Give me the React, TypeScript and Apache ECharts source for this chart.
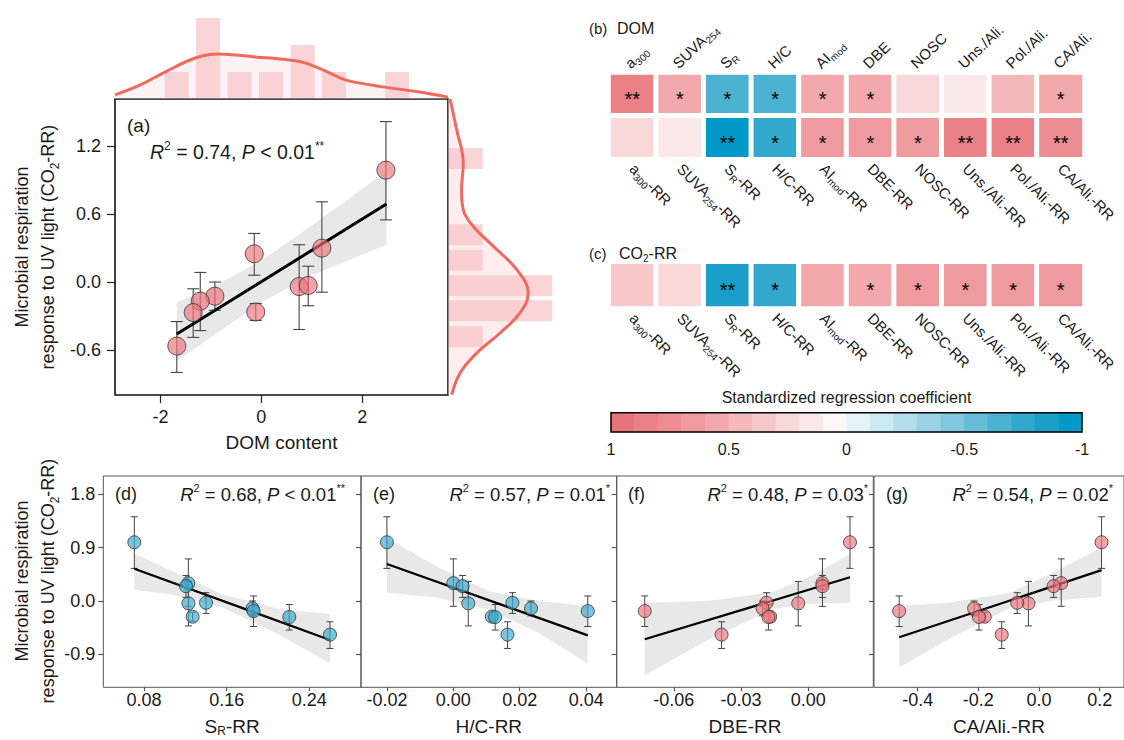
import React, { useEffect, useRef } from "react";
import * as echarts from "echarts";

const FONT = '"Liberation Sans", Arial, Helvetica, sans-serif';
const INK = "#1a1a1a";
const PINK = "rgba(238,120,125,0.85)";
const BLUE = "rgba(59,169,203,0.85)";
const EDGE = "#333333";
const BAND = "rgba(200,200,200,0.42)";
const HIST = "rgba(248,196,200,0.72)";
const FILL = "rgba(250,214,217,0.45)";
const CURVE = "#ef6a5c";

// ---------- CO2-RR of the ten samples (shared by panels a, d–g) ----------
const respY = [0.99, 0.3, 0.25, -0.04, -0.03, -0.125, -0.17, -0.265, -0.27, -0.567];
const respLo = [0.55, -0.09, 0.06, -0.42, -0.21, -0.25, -0.43, -0.34, -0.49, -0.8];
const respHi = [1.42, 0.71, 0.43, 0.33, 0.14, 0.0, 0.085, -0.19, -0.06, -0.35];

// ---------- predictors ----------
const domX = [2.47, 1.2, -0.14, 0.75, 0.93, -0.92, -1.21, -0.11, -1.35, -1.675];
const srX = [0.0706, 0.1229, 0.1206, 0.123, 0.14, 0.185, 0.186, 0.127, 0.2206, 0.26];
const hcX = [-0.02, 0.0, 0.0028, 0.0045, 0.0178, 0.0234, 0.0405, 0.0116, 0.0126, 0.0163];
const dbeX = [0.0186, 0.0063, 0.0063, -0.0045, -0.0186, -0.0204, -0.073, -0.017, -0.0178, -0.0387];
const caX = [0.206, 0.073, 0.048, -0.035, -0.072, -0.214, -0.461, -0.179, -0.198, -0.123];

// ---------- fitted lines and confidence bands ----------
const fitAX = [-1.675, 2.48];
const fitAY = [-0.46, 0.69];
const bandAX = [-1.675, -1, 0, 1, 2.48];
const bandALo = [-0.7, -0.49, -0.18, 0.06, 0.33];
const bandAHi = [-0.18, -0.05, 0.19, 0.5, 0.98];

const fitDX = [0.0706, 0.26];
const fitDY = [0.545, -0.657];
const bandDX = [0.0706, 0.11, 0.156, 0.21, 0.26];
const bandDLo = [0.19, 0.1, -0.11, -0.56, -1.05];
const bandDHi = [0.8, 0.48, 0.11, -0.13, -0.22];

const fitEX = [-0.02, 0.0405];
const fitEY = [0.624, -0.58];
const bandEX = [-0.02, -0.005, 0.011, 0.026, 0.0405];
const bandELo = [0.14, 0.06, -0.15, -0.55, -1.06];
const bandEHi = [1.06, 0.58, 0.16, 0.0, -0.085];

const fitFX = [-0.073, 0.0186];
const fitFY = [-0.646, 0.4];
const bandFX = [-0.073, -0.045, -0.016, 0.0, 0.0186];
const bandFLo = [-1.25, -0.66, -0.14, -0.05, -0.03];
const bandFHi = [-0.03, 0.0, 0.15, 0.4, 0.79];

const fitGX = [-0.461, 0.206];
const fitGY = [-0.61, 0.52];
const bandGX = [-0.461, -0.3, -0.0955, 0.05, 0.206];
const bandGLo = [-1.12, -0.65, -0.12, 0.01, 0.07];
const bandGHi = [-0.085, -0.03, 0.14, 0.49, 0.9];

// ---------- marginal distributions of panel (a) ----------
const histXCenters = [-1.675, -1.055, -0.43, 0.19, 0.82, 1.44, 2.69];
const histXCounts = [1, 3, 1, 1, 2, 1, 1];
const densXPos = [-2.9, -2.4, -1.91, -1.31, -0.86, -0.12, 0.59, 0.885, 1.36, 1.68, 2.45, 3.14, 3.7];
const densXVal = [0.15, 0.52, 1.0, 1.52, 1.67, 1.56, 1.44, 1.33, 0.96, 0.7, 0.44, 0.26, 0.07];
const histYCenters = [1.094, 0.419, 0.193, -0.033, -0.254, -0.484];
const histYCounts = [1, 1, 1, 3, 3, 1];
const densYPos = [1.62, 1.348, 1.053, 0.817, 0.64, 0.492, 0.315, 0.109, -0.097, -0.274, -0.451, -0.628, -0.805, -0.997];
const densYVal = [0.06, 0.25, 0.44, 0.39, 0.44, 0.73, 1.31, 1.98, 2.31, 2.07, 1.5, 0.83, 0.35, 0.11];

// ---------- heatmaps ----------
const varLabels = ["a{s|300}", "SUVA{s|254}", "S{s|R}", "H/C", "AI{s|mod}", "DBE", "NOSC", "Uns./Ali.", "Pol./Ali.", "CA/Ali."];
const rrLabels = varLabels.map((l) => l + "-RR");
const coefDom = [0.85, 0.58, -0.65, -0.65, 0.58, 0.58, 0.25, 0.15, 0.45, 0.58];
const coefDomRR = [0.25, 0.15, -0.95, -0.75, 0.68, 0.68, 0.68, 0.85, 0.85, 0.75];
const coefCO2 = [0.35, 0.25, -0.85, -0.75, 0.58, 0.58, 0.68, 0.68, 0.68, 0.68];
const sigDom = ["**", "*", "*", "*", "*", "*", "", "", "", "*"];
const sigDomRR = ["", "", "**", "*", "*", "*", "*", "**", "**", "**"];
const sigCO2 = ["", "", "**", "*", "", "*", "*", "*", "*", "*"];

// colour scale: 20 steps from 1 (left) to -1 (right)
const segColors = [
  "#e8747b", "#ea8187", "#ec8d92", "#ee9a9e", "#f1a9ac", "#f3b8ba", "#f6c8ca", "#f9d8d9", "#fbe8e8", "#fdf7f7",
  "#e6f4f9", "#cde9f2", "#b4deec", "#9ad3e5", "#80c8df", "#66bdd8", "#4db2d2", "#33a8cd", "#1a9fca", "#0099c8",
];
const scaleSteps = [0.95, 0.85, 0.75, 0.65, 0.55, 0.45, 0.35, 0.25, 0.15, 0.05, -0.05, -0.15, -0.25, -0.35, -0.45, -0.55, -0.65, -0.75, -0.85, -0.95];

// ---------- ticks ----------
const domTicks = [-2, 0, 2];
const respTicksA = [-0.6, 0, 0.6, 1.2];
const respTicksB = [-0.9, 0, 0.9, 1.8];
const srTicks = [0.08, 0.16, 0.24];
const hcTicks = [-0.02, 0, 0.02, 0.04];
const dbeTicks = [-0.06, -0.03, 0];
const caTicks = [-0.4, -0.2, 0, 0.2];
const scaleTicks = [1, 0.5, 0, -0.5, -1];

const statA = "{i|R}{p|2} = 0.74, {i|P} < 0.01{p|**}";
const statD = "{i|R}{p|2} = 0.68, {i|P} < 0.01{p|**}";
const statE = "{i|R}{p|2} = 0.57, {i|P} = 0.01{p|*}";
const statF = "{i|R}{p|2} = 0.48, {i|P} = 0.03{p|*}";
const statG = "{i|R}{p|2} = 0.54, {i|P} = 0.02{p|*}";

const empty = () => ({ type: "group", children: [] });

function valAxis(gridIndex: number, min: number, max: number, ticks: number[], dec: number, o: any = {}) {
  return {
    type: "value",
    gridIndex,
    min,
    max,
    axisLine: { show: false, onZero: false },
    splitLine: { show: false },
    axisTick: { show: true, length: o.tickLen ?? 6, customValues: ticks, lineStyle: { color: o.tickColor ?? "#222", width: 1.2 } },
    axisLabel: {
      show: o.showLabel ?? true,
      customValues: ticks,
      formatter: (v: number) => Number(v).toFixed(dec),
      fontSize: 18,
      color: INK,
      fontFamily: FONT,
      margin: o.margin ?? 8,
    },
    ...(o.extra || {}),
  };
}

function bandSeries(xi: number, yi: number, bx: number[], lo: number[], hi: number[]) {
  return {
    type: "custom",
    xAxisIndex: xi,
    yAxisIndex: yi,
    silent: true,
    z: 1,
    data: bx.map((x, i) => [x, lo[i], hi[i]]),
    encode: { x: 0, y: [1, 2] },
    renderItem: (p: any, api: any) => {
      if (p.dataIndex !== 0) return empty();
      const up = bx.map((x, i) => api.coord([x, hi[i]]));
      const dn = bx.map((x, i) => api.coord([x, lo[i]])).reverse();
      return { type: "polygon", shape: { points: up.concat(dn) }, style: { fill: BAND } };
    },
  };
}

function errSeries(xi: number, yi: number, xs: number[], cap: number, lw: number) {
  return {
    type: "custom",
    xAxisIndex: xi,
    yAxisIndex: yi,
    silent: true,
    z: 2,
    data: xs.map((x, i) => [x, respLo[i], respHi[i]]),
    encode: { x: 0, y: [1, 2] },
    renderItem: (p: any, api: any) => {
      const x = api.value(0);
      const a = api.coord([x, api.value(1)]);
      const b = api.coord([x, api.value(2)]);
      const st = { stroke: "#444", lineWidth: lw };
      return {
        type: "group",
        children: [
          { type: "line", shape: { x1: a[0], y1: a[1], x2: b[0], y2: b[1] }, style: st },
          { type: "line", shape: { x1: a[0] - cap / 2, y1: a[1], x2: a[0] + cap / 2, y2: a[1] }, style: st },
          { type: "line", shape: { x1: b[0] - cap / 2, y1: b[1], x2: b[0] + cap / 2, y2: b[1] }, style: st },
        ],
      };
    },
  };
}

function fitSeries(xi: number, yi: number, fx: number[], fy: number[], lw: number) {
  return {
    type: "line",
    xAxisIndex: xi,
    yAxisIndex: yi,
    silent: true,
    z: 3,
    showSymbol: false,
    data: fx.map((x, i) => [x, fy[i]]),
    lineStyle: { color: "#000", width: lw },
  };
}

function dotSeries(xi: number, yi: number, xs: number[], color: string, size: number) {
  return {
    type: "scatter",
    xAxisIndex: xi,
    yAxisIndex: yi,
    silent: true,
    z: 4,
    symbolSize: size,
    data: xs.map((x, i) => [x, respY[i]]),
    itemStyle: { color, borderColor: EDGE, borderWidth: 1 },
  };
}

const heatRich = { s: { fontSize: 10, lineHeight: 10, fontFamily: FONT, color: INK, verticalAlign: "bottom" } };
function heatLabel(labels: string[], rotate: number, margin: number) {
  return {
    show: true,
    interval: 0,
    rotate,
    align: "left",
    verticalAlign: "middle",
    margin,
    fontSize: 15,
    lineHeight: 20,
    fontFamily: FONT,
    color: INK,
    formatter: (_v: any, i: number) => labels[i],
    rich: heatRich,
  };
}
const catAxisBase = { type: "category", axisLine: { show: false }, axisTick: { show: false }, splitLine: { show: false } };

const textRich = (fs: number) => ({
  i: { fontSize: fs, fontStyle: "italic", fontFamily: FONT, fill: INK, lineHeight: fs + 4 },
  p: { fontSize: Math.round(fs * 0.6), fontFamily: FONT, fill: INK, verticalAlign: "top", lineHeight: Math.round(fs * 0.6) },
  b: { fontSize: Math.round(fs * 0.65), fontFamily: FONT, fill: INK, verticalAlign: "bottom", lineHeight: fs },
  m: { fontSize: fs, fontFamily: FONT, fill: INK, lineHeight: 26 },
  s: { fontSize: 10, lineHeight: 10, fontFamily: FONT, fill: INK, verticalAlign: "bottom" },
});

function textEl(x: number, y: number, text: string, fs: number, align = "left", extra: any = {}) {
  return {
    type: "text",
    x,
    y,
    silent: true,
    z: 100,
    ...extra,
    style: {
      text,
      fontSize: fs,
      fontFamily: FONT,
      fill: INK,
      align,
      verticalAlign: "middle",
      lineHeight: fs + 4,
      rich: textRich(fs),
    },
  };
}

function buildOption() {
  const grid: any[] = [];
  const xAxis: any[] = [];
  const yAxis: any[] = [];
  const series: any[] = [];
  const heatIdx: number[] = [];

  // ---- grid 0 : panel (a)
  grid.push({ left: 115, top: 99, width: 333, height: 296, show: true, borderColor: "#111", borderWidth: 1.6, backgroundColor: "transparent" });
  xAxis.push(
    valAxis(0, -2.9, 3.7, domTicks, 0, {
      tickLen: 8,
      margin: 13,
      extra: { position: "bottom", name: "DOM content", nameLocation: "middle", nameGap: 38, nameTextStyle: { fontSize: 19, color: INK, fontFamily: FONT } },
    })
  );
  yAxis.push(valAxis(0, -1.0, 1.62, respTicksA, 1, { tickLen: 8, margin: 14, extra: { position: "left" } }));

  // ---- grid 1 : top marginal
  grid.push({ left: 115, top: 10, width: 333, height: 89 });
  xAxis.push({ type: "value", gridIndex: 1, min: -2.9, max: 3.7, show: false });
  yAxis.push({ type: "value", gridIndex: 1, min: 0, max: 3.3, show: false });

  // ---- grid 2 : right marginal
  grid.push({ left: 448, top: 99, width: 140, height: 296 });
  xAxis.push({ type: "value", gridIndex: 2, min: 0, max: 4.03, show: false });
  yAxis.push({ type: "value", gridIndex: 2, min: -1.0, max: 1.62, show: false });

  // ---- grid 3 : heatmap (b)
  grid.push({ left: 608.5, top: 72.5, width: 476, height: 86.7 });
  xAxis.push({ ...catAxisBase, gridIndex: 3, position: "bottom", data: rrLabels.map((_, i) => "r" + i), axisLabel: heatLabel(rrLabels, -45, 7) });
  yAxis.push({ ...catAxisBase, gridIndex: 3, data: ["DOM", "RR"], inverse: true, show: false });

  // ---- grid 4 : heatmap (c)
  grid.push({ left: 608.5, top: 261.8, width: 476, height: 46.7 });
  xAxis.push({ ...catAxisBase, gridIndex: 4, position: "bottom", data: rrLabels.map((_, i) => "c" + i), axisLabel: heatLabel(rrLabels, -45, 7) });
  yAxis.push({ ...catAxisBase, gridIndex: 4, data: ["CO2"], show: false });

  // ---- grid 5 : colour bar
  grid.push({ left: 611, top: 412.7, width: 471, height: 19.3, show: true, borderColor: "#000", borderWidth: 1.5, backgroundColor: "transparent", z: 10 });
  xAxis.push({ ...catAxisBase, gridIndex: 5, position: "top", data: scaleSteps.map((_, i) => "s" + i), show: false });
  xAxis.push({
    type: "value",
    gridIndex: 5,
    position: "bottom",
    min: -1,
    max: 1,
    inverse: true,
    axisLine: { show: false, onZero: false },
    axisTick: { show: false },
    splitLine: { show: false },
    axisLabel: { customValues: scaleTicks, fontSize: 16, color: INK, fontFamily: FONT, margin: 9 },
  });
  yAxis.push({ ...catAxisBase, gridIndex: 5, data: ["scale"], show: false });

  // ---- grids 6-9 : panels (d)-(g)
  const panels = [
    { xs: srX, left: 103.3, width: 257.7, min: 0.0406, max: 0.29, ticks: srTicks, dec: 2, name: "S{s|R}-RR", fx: fitDX, fy: fitDY, bx: bandDX, lo: bandDLo, hi: bandDHi, color: BLUE },
    { xs: hcX, left: 361, width: 255.7, min: -0.0278, max: 0.0492, ticks: hcTicks, dec: 2, name: "H/C-RR", fx: fitEX, fy: fitEY, bx: bandEX, lo: bandELo, hi: bandEHi, color: BLUE },
    { xs: dbeX, left: 616.7, width: 256.6, min: -0.0855, max: 0.029, ticks: dbeTicks, dec: 2, name: "DBE-RR", fx: fitFX, fy: fitFY, bx: bandFX, lo: bandFLo, hi: bandFHi, color: PINK },
    { xs: caX, left: 874, width: 256.5, min: -0.544, max: 0.28, ticks: caTicks, dec: 1, name: "CA/Ali.-RR", fx: fitGX, fy: fitGY, bx: bandGX, lo: bandGLo, hi: bandGHi, color: PINK },
  ];
  panels.forEach((pn, k) => {
    const gi = 6 + k;
    grid.push({ left: pn.left, top: 476, width: pn.width, height: 211.3, show: true, borderColor: "#555", borderWidth: 1, backgroundColor: "transparent" });
    xAxis.push(
      valAxis(gi, pn.min, pn.max, pn.ticks, pn.dec, {
        tickLen: 4,
        margin: 4,
        tickColor: "#555",
        extra: {
          position: "bottom",
          name: pn.name,
          nameLocation: "middle",
          nameGap: 28,
          nameTextStyle: {
            fontSize: 19,
            lineHeight: 22,
            color: INK,
            fontFamily: FONT,
            rich: { s: { fontSize: 12, lineHeight: 16, verticalAlign: "bottom", fontFamily: FONT, color: INK } },
          },
        },
      })
    );
    yAxis.push(valAxis(gi, -1.455, 2.107, respTicksB, 1, { tickLen: 5, margin: 8, tickColor: "#555", showLabel: k === 0, extra: { position: "left" } }));
  });

  // ---------------- series ----------------
  // top marginal
  series.push({
    type: "line", xAxisIndex: 1, yAxisIndex: 1, silent: true, z: 1, smooth: 0.4, showSymbol: false,
    data: densXPos.map((x, i) => [x, densXVal[i]]), lineStyle: { width: 0 }, areaStyle: { color: FILL },
  });
  series.push({
    type: "custom", xAxisIndex: 1, yAxisIndex: 1, silent: true, z: 2,
    data: histXCenters.map((x, i) => [x, histXCounts[i]]), encode: { x: 0, y: 1 },
    renderItem: (_p: any, api: any) => {
      const a = api.coord([api.value(0), 0]);
      const b = api.coord([api.value(0), api.value(1)]);
      return { type: "rect", shape: { x: a[0] - 12, y: b[1], width: 24, height: a[1] - b[1] - 1 }, style: { fill: HIST } };
    },
  });
  series.push({
    type: "line", xAxisIndex: 1, yAxisIndex: 1, silent: true, z: 3, smooth: 0.4, showSymbol: false,
    data: densXPos.map((x, i) => [x, densXVal[i]]), lineStyle: { width: 3, color: CURVE },
  });
  // right marginal
  series.push({
    type: "custom", xAxisIndex: 2, yAxisIndex: 2, silent: true, z: 1,
    data: densYPos.map((y, i) => [densYVal[i], y]), encode: { x: 0, y: 1 },
    renderItem: (p: any, api: any) => {
      if (p.dataIndex !== 0) return empty();
      const pts = densYPos.map((y, i) => api.coord([densYVal[i], y]));
      const first = api.coord([0, densYPos[0]]);
      const last = api.coord([0, densYPos[densYPos.length - 1]]);
      return { type: "polygon", shape: { points: [first, ...pts, last] }, style: { fill: FILL } };
    },
  });
  series.push({
    type: "custom", xAxisIndex: 2, yAxisIndex: 2, silent: true, z: 2,
    data: histYCenters.map((y, i) => [histYCounts[i], y]), encode: { x: 0, y: 1 },
    renderItem: (_p: any, api: any) => {
      const a = api.coord([0, api.value(1)]);
      const b = api.coord([api.value(0), api.value(1)]);
      return { type: "rect", shape: { x: a[0] + 1, y: a[1] - 10.5, width: b[0] - a[0] - 1, height: 21 }, style: { fill: HIST } };
    },
  });
  series.push({
    type: "line", xAxisIndex: 2, yAxisIndex: 2, silent: true, z: 3, smooth: 0.4, showSymbol: false,
    data: densYPos.map((y, i) => [densYVal[i], y]), lineStyle: { width: 3, color: CURVE },
  });

  // panel (a)
  series.push(bandSeries(0, 0, bandAX, bandALo, bandAHi));
  series.push(errSeries(0, 0, domX, 12, 1.1));
  series.push(fitSeries(0, 0, fitAX, fitAY, 3));
  series.push(dotSeries(0, 0, domX, PINK, 18));

  // heatmaps
  const starLabel = {
    show: true,
    formatter: (p: any) => (p.data && p.data.sig) || "",
    fontSize: 20,
    color: "#000",
    fontFamily: FONT,
    offset: [0, 5],
  };
  heatIdx.push(series.length);
  series.push({
    type: "heatmap", xAxisIndex: 3, yAxisIndex: 3, silent: true,
    data: [
      ...coefDom.map((v, i) => ({ value: [i, 0, v], sig: sigDom[i] })),
      ...coefDomRR.map((v, i) => ({ value: [i, 1, v], sig: sigDomRR[i] })),
    ],
    itemStyle: { borderColor: "#fff", borderWidth: 5 },
    label: starLabel,
    emphasis: { disabled: true },
  });
  heatIdx.push(series.length);
  series.push({
    type: "heatmap", xAxisIndex: 4, yAxisIndex: 4, silent: true,
    data: coefCO2.map((v, i) => ({ value: [i, 0, v], sig: sigCO2[i] })),
    itemStyle: { borderColor: "#fff", borderWidth: 5 },
    label: starLabel,
    emphasis: { disabled: true },
  });
  heatIdx.push(series.length);
  series.push({
    type: "heatmap", xAxisIndex: 5, yAxisIndex: 5, silent: true, z: 1,
    data: scaleSteps.map((v, i) => [i, 0, v]),
    itemStyle: { borderWidth: 0 },
    emphasis: { disabled: true },
  });

  // panels (d)-(g)
  panels.forEach((pn, k) => {
    const gi = 6 + k;
    const ai = 7 + k;
    series.push(bandSeries(ai, gi, pn.bx, pn.lo, pn.hi));
    series.push(errSeries(ai, gi, pn.xs, 7, 1));
    series.push(fitSeries(ai, gi, pn.fx, pn.fy, 2.2));
    series.push(dotSeries(ai, gi, pn.xs, pn.color, 13));
  });

  const pieces = segColors.map((c, i) => ({ max: +(1 - i * 0.1).toFixed(2), min: +(1 - (i + 1) * 0.1).toFixed(2), color: c }));

  const graphic = [
    textEl(35, 247, "{m|Microbial respiration}\n{m|response to UV light (CO}{b|2}{m|-RR)}", 18, "center", { rotation: Math.PI / 2 }),
    textEl(35, 581, "{m|Microbial respiration}\n{m|response to UV light (CO}{b|2}{m|-RR)}", 18, "center", { rotation: Math.PI / 2 }),
    textEl(127, 125, "(a)", 19),
    textEl(150, 152, statA, 19.5),
    textEl(115, 494, "(d)", 18),
    textEl(345, 494, statD, 18.5, "right"),
    textEl(373, 494, "(e)", 18),
    textEl(610, 494, statE, 18.5, "right"),
    textEl(628, 494, "(f)", 18),
    textEl(868, 494, statF, 18.5, "right"),
    textEl(886, 494, "(g)", 18),
    textEl(1113, 494, statG, 18.5, "right"),
    textEl(589, 28, "(b)", 15),
    textEl(617, 28, "DOM", 16),
    textEl(589, 253, "(c)", 15),
    textEl(619, 253, "CO{b|2}-RR", 16),
    textEl(846.5, 397, "Standardized regression coefficient", 16, "center"),
  ];

  return {
    animation: false,
    backgroundColor: "#ffffff",
    textStyle: { fontFamily: FONT },
    grid,
    xAxis,
    yAxis,
    visualMap: [{ type: "piecewise", show: false, dimension: 2, seriesIndex: heatIdx, pieces }],
    series,
    graphic,
  };
}

export default function App() {
  const ref = useRef<HTMLDivElement>(null);
  useEffect(() => {
    if (!ref.current) return;
    const chart = echarts.init(ref.current, null, { renderer: "svg" });
    const option: any = buildOption();
    chart.setOption(option);
    // upper variable names of heatmap (b), positioned from the heatmap's own axes, slanted upward
    const upper = varLabels.map((lab, i) => {
      const pt = chart.convertToPixel({ gridIndex: 3 }, [i, 0]) as number[];
      const cellTop = pt[1] - 43.35 / 2;
      return {
        type: "text",
        x: pt[0] - 5,
        y: cellTop - 7,
        rotation: 0.76,
        silent: true,
        z: 100,
        style: {
          text: lab,
          fontSize: 15,
          fontFamily: FONT,
          fill: INK,
          align: "left",
          verticalAlign: "middle",
          lineHeight: 20,
          rich: textRich(15),
        },
      };
    });
    chart.setOption({ graphic: [...option.graphic, ...upper] });
    return () => chart.dispose();
  }, []);
  return <div ref={ref} style={{ position: "absolute", left: 0, top: 0, width: 1124, height: 740 }} />;
}
